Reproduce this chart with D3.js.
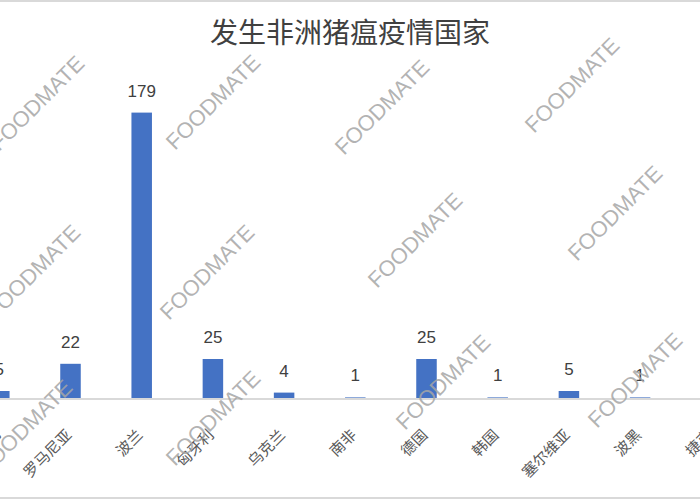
<!DOCTYPE html>
<html>
<head>
<meta charset="utf-8">
<script src="https://cdn.jsdelivr.net/npm/d3@7"></script>
<style>
body { margin: 0; background: #fff; }
svg { display: block; }
</style>
</head>
<body>
<svg id="chart" width="700" height="500"></svg>
<script>
const categories = ["斯洛伐克", "罗马尼亚", "波兰", "匈牙利", "乌克兰", "南非", "德国", "韩国", "塞尔维亚", "波黑", "捷克"];
const values = [5, 22, 179, 25, 4, 1, 25, 1, 5, 1, 1];
const yTicks = [0, 50, 100, 150, 200];
const titleText = "发生非洲猪瘟疫情国家";
const watermarkText = "FOODMATE";
const watermarkCenters = [
  [37, 103], [213, 102], [382, 107], [572, 85],
  [33, 272], [207, 272], [415, 240], [615, 213],
  [25, 427], [213, 418], [443, 382], [635, 380]
];

const svg = d3.select("#chart");
const W = 700, H = 500;

// frame lines (chart area border, cropped)
svg.append("rect").attr("x", -2).attr("y", 1).attr("width", W + 4).attr("height", H - 3)
  .attr("fill", "#fff").attr("stroke", "#d9d9d9").attr("stroke-width", 2);

const x = d3.scaleBand().domain(categories).range([-36.3, 746.9])
  .paddingInner(0.712).paddingOuter(0.356);
const y = d3.scaleLinear().domain([0, d3.max(yTicks)]).range([399, 79]);

// title
svg.append("text").attr("x", 350).attr("y", 43).attr("text-anchor", "middle")
  .attr("font-family", "'Noto Sans CJK SC', sans-serif").attr("font-size", 28)
  .attr("fill", "#404040").text(titleText);

// bars
svg.append("g").selectAll("rect").data(categories).join("rect")
  .attr("x", d => x(d)).attr("width", x.bandwidth())
  .attr("y", (d, i) => y(values[i])).attr("height", (d, i) => y(0) - y(values[i]))
  .attr("fill", "#4472c4");

// axis
const axis = svg.append("g").attr("transform", `translate(0,${y(0)})`)
  .call(d3.axisBottom(x).tickSize(0).tickPadding(0));
axis.select(".domain").attr("stroke", "#d9d9d9").attr("stroke-width", 2).attr("d", "M0,0H700");
axis.selectAll(".tick text")
  .attr("font-family", "'Noto Sans CJK SC', sans-serif").attr("font-size", 15)
  .attr("fill", "#595959").attr("text-anchor", "end").attr("dy", null).attr("y", 0)
  .attr("transform", "translate(2,37) rotate(-45)");

// value labels
svg.append("g").selectAll("text").data(categories).join("text")
  .attr("x", d => x(d) + x.bandwidth() / 2)
  .attr("y", (d, i) => y(values[i]) - 16)
  .attr("text-anchor", "middle")
  .attr("font-family", "'Liberation Sans', Arial, sans-serif").attr("font-size", 17)
  .attr("fill", "#404040").text((d, i) => values[i]);

// watermarks
svg.append("g").selectAll("text").data(watermarkCenters).join("text")
  .attr("transform", d => `translate(${d[0]},${d[1]}) rotate(-45)`)
  .attr("text-anchor", "middle").attr("dy", "0.35em")
  .attr("font-family", "'Liberation Sans', Arial, sans-serif").attr("font-size", 22)
  .attr("fill", "#a6a6a6").attr("fill-opacity", 0.85).text(watermarkText);
</script>
</body>
</html>
